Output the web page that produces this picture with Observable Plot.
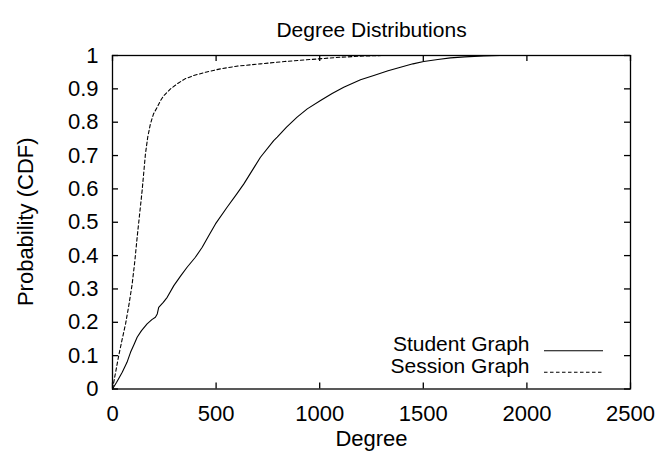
<!DOCTYPE html>
<html>
<head>
<meta charset="utf-8">
<script src="https://cdn.jsdelivr.net/npm/d3@7"></script>
<script src="https://cdn.jsdelivr.net/npm/@observablehq/plot@0.6"></script>
<style>
  html, body { margin: 0; padding: 0; background: #fff; }
  svg { font-family: "Liberation Sans", Arial, sans-serif; }
</style>
</head>
<body>
<div id="chart"></div>
<script>
const title = "Degree Distributions";
const xLabel = "Degree";
const yLabel = "Probability (CDF)";
const seriesNames = ["Student Graph", "Session Graph"];

const studentDegree = [0, 20, 47, 70, 87, 105, 119, 140, 167, 190, 207, 216, 223, 245, 264, 296, 330, 360, 400, 433, 465, 497, 553, 600, 634, 714, 778, 795, 840, 891, 940, 1004, 1060, 1116, 1197, 1261, 1330, 1390, 1450, 1502, 1570, 1631, 1700, 1792, 1870, 1950, 2050];
const studentCdf    = [0, 0.02, 0.05, 0.08, 0.11, 0.135, 0.155, 0.175, 0.195, 0.208, 0.215, 0.225, 0.245, 0.26, 0.275, 0.31, 0.34, 0.365, 0.395, 0.425, 0.46, 0.495, 0.545, 0.585, 0.615, 0.695, 0.745, 0.755, 0.785, 0.815, 0.84, 0.865, 0.886, 0.905, 0.927, 0.94, 0.954, 0.965, 0.975, 0.982, 0.988, 0.993, 0.996, 0.999, 1, 1, 1];

const sessionDegree = [0, 15, 30, 47, 63, 80, 95, 108, 119, 131, 143, 151, 159, 170, 183, 198, 216, 232, 248, 280, 312, 350, 392, 450, 521, 600, 714, 830, 956, 1080, 1197, 1300, 1400];
const sessionCdf    = [0, 0.05, 0.10, 0.15, 0.195, 0.255, 0.315, 0.385, 0.455, 0.525, 0.595, 0.65, 0.705, 0.755, 0.795, 0.825, 0.845, 0.865, 0.88, 0.90, 0.915, 0.93, 0.94, 0.95, 0.96, 0.968, 0.975, 0.982, 0.988, 0.994, 0.998, 1, 1];

const xTicks = [0, 500, 1000, 1500, 2000, 2500];
const yTicks = [0, 0.1, 0.2, 0.3, 0.4, 0.5, 0.6, 0.7, 0.8, 0.9, 1];

const student = studentDegree.map((x, i) => ({x, y: studentCdf[i]}));
const session = sessionDegree.map((x, i) => ({x, y: sessionCdf[i]}));

const W = 660, H = 455;
const mL = 112, mR = 30, mT = 55, mB = 66.5;
const innerH = H - mT - mB;
const innerW = W - mL - mR;
const tickLen = 6;
const fs = 22;
const legendFs = 21;

const plot = Plot.plot({
  width: W,
  height: H,
  marginLeft: mL,
  marginRight: mR,
  marginTop: mT,
  marginBottom: mB,
  style: {fontFamily: '"Liberation Sans", Arial, sans-serif', fontSize: fs + "px", color: "#000", background: "#fff"},
  x: {domain: [0, 2500]},
  y: {domain: [0, 1]},
  marks: [
    Plot.axisX(xTicks, {tickSize: 0, tickPadding: 16.5, fontSize: fs, label: null, tickFormat: d => String(d)}),
    Plot.axisY(yTicks, {tickSize: 0, tickPadding: 14, fontSize: fs, label: null, tickFormat: d => String(d)}),
    // inward ticks on all four sides
    Plot.tickX(xTicks, {x: d => d, insetTop: innerH - tickLen, stroke: "#000", strokeWidth: 1.3}),
    Plot.tickX(xTicks, {x: d => d, insetBottom: innerH - tickLen, stroke: "#000", strokeWidth: 1.3}),
    Plot.tickY(yTicks, {y: d => d, insetRight: innerW - tickLen, stroke: "#000", strokeWidth: 1.3}),
    Plot.tickY(yTicks, {y: d => d, insetLeft: innerW - tickLen, stroke: "#000", strokeWidth: 1.3}),
    Plot.line(student, {x: "x", y: "y", stroke: "#000", strokeWidth: 1.1}),
    Plot.line(session, {x: "x", y: "y", stroke: "#000", strokeWidth: 1.1, strokeDasharray: "3.5,2.5"}),
    Plot.frame({stroke: "#000", strokeWidth: 1.3}),
    Plot.text([title], {frameAnchor: "top", dy: -33.7, fontSize: 21, fill: "#000"}),
    Plot.text([xLabel], {frameAnchor: "bottom", dy: 56.5, fontSize: fs, fill: "#000"}),
    // legend labels
    Plot.text([seriesNames[0]], {frameAnchor: "bottom-right", dx: -101, dy: -38.2, textAnchor: "end", fontSize: legendFs, fill: "#000"}),
    Plot.text([seriesNames[1]], {frameAnchor: "bottom-right", dx: -101, dy: -16.4, textAnchor: "end", fontSize: legendFs, fill: "#000"})
  ]
});

const svg = d3.select(plot);
// y-axis title (rotated)
svg.append("text")
  .attr("transform", `translate(33,${mT + innerH / 2}) rotate(-90)`)
  .attr("text-anchor", "middle")
  .attr("font-size", fs)
  .attr("fill", "#000")
  .text(yLabel);

// legend line samples
const lx1 = W - mR - 86, lx2 = W - mR - 27;
const ly = [H - mB - 37.8, H - mB - 16.2];
svg.append("line").attr("x1", lx1).attr("x2", lx2).attr("y1", ly[0]).attr("y2", ly[0])
  .attr("stroke", "#000").attr("stroke-width", 1.1);
svg.append("line").attr("x1", lx1).attr("x2", lx2).attr("y1", ly[1]).attr("y2", ly[1])
  .attr("stroke", "#000").attr("stroke-width", 1.1).attr("stroke-dasharray", "3.5,2.5");

document.getElementById("chart").appendChild(plot);
</script>
</body>
</html>
